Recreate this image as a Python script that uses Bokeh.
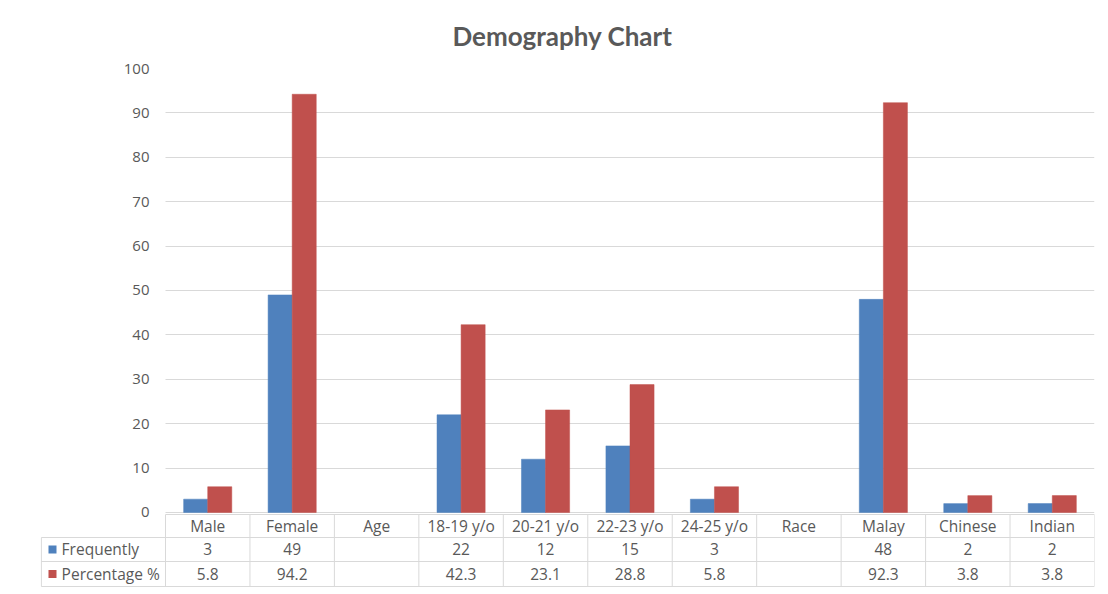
from bokeh.plotting import figure
from bokeh.models import FixedTicker, Range1d
from bokeh.core.properties import value
from bokeh.embed import file_html
from bokeh.resources import INLINE

# ---- data ----
title_text = "Demography Chart"
categories = ["Male", "Female", "Age", "18-19 y/o", "20-21 y/o", "22-23 y/o",
              "24-25 y/o", "Race", "Malay", "Chinese", "Indian"]
frequently = [3, 49, None, 22, 12, 15, 3, None, 48, 2, 2]
percentage = [5.8, 94.2, None, 42.3, 23.1, 28.8, 5.8, None, 92.3, 3.8, 3.8]
series_names = ["Frequently", "Percentage %"]
series_colors = ["#4f81bd", "#c0504d"]
y_ticks = [0, 10, 20, 30, 40, 50, 60, 70, 80, 90, 100]

FONT = "Open Sans"
GREY = "#595959"
LINE = "#d9d9d9"

n = len(categories)
x_left = -1.48
y_bottom = -17.12
row_edges = [-0.45, -5.63, -11.04, -16.67]

p = figure(width=1100, height=588, x_range=Range1d(x_left, n), y_range=Range1d(y_bottom, 100),
           output_backend="svg", toolbar_location=None,
           min_border_left=40, min_border_right=6, min_border_top=68, min_border_bottom=0,
           title=title_text)
p.outline_line_color = None
p.background_fill_color = "white"
p.border_fill_color = "white"
p.xaxis.visible = False
p.xgrid.visible = False
p.ygrid.ticker = FixedTicker(ticks=y_ticks)
p.ygrid.grid_line_color = LINE
p.ygrid.cross_bounds = (0, n)

p.yaxis.ticker = FixedTicker(ticks=y_ticks)
p.yaxis.axis_line_color = None
p.yaxis.major_tick_line_color = None
p.yaxis.minor_tick_line_color = None
p.yaxis.major_tick_out = 0
p.yaxis.major_tick_in = 0
p.yaxis.major_label_standoff = -109
p.yaxis.major_label_text_font = FONT
p.yaxis.major_label_text_font_size = "15px"
p.yaxis.major_label_text_color = GREY

p.title.align = "left"
p.title.offset = 412
p.title.standoff = 33
p.title.text_font = "Lato"
p.title.text_font_size = "26px"
p.title.text_font_style = "bold"
p.title.text_color = GREY

# ---- bars ----
bw = 0.285
for k, (vals, col) in enumerate(zip([frequently, percentage], series_colors)):
    xs = [i + 0.5 + (k - 0.5) * bw for i, v in enumerate(vals) if v is not None]
    tops = [v for v in vals if v is not None]
    p.vbar(x=xs, top=tops, bottom=0, width=bw, fill_color=col, line_color=col, line_width=0.5)

# ---- data table ----
hx0 = [0] + [x_left + 0.01] * 3
hx1 = [n] * 4
p.segment(x0=hx0, y0=row_edges, x1=hx1, y1=row_edges, line_color=LINE, line_width=1)
vx = list(range(n + 1)) + [x_left + 0.01]
vy0 = [row_edges[0]] * (n + 1) + [row_edges[1]]
vy1 = [row_edges[3]] * (n + 2)
p.segment(x0=vx, y0=vy0, x1=vx, y1=vy1, line_color=LINE, line_width=1)

row_mid = [(row_edges[i] + row_edges[i + 1]) / 2 for i in range(3)]
xc = [i + 0.5 for i in range(n)]
TS = "15.5px"
p.text(x=xc, y=[row_mid[0]] * n, text=categories, text_align="center", text_baseline="middle",
       text_font=value(FONT), text_font_size=TS, text_color=GREY)


def fmt(v):
    return "" if v is None else (str(v) if isinstance(v, int) else f"{v:.1f}")


for r, vals in enumerate([frequently, percentage]):
    p.text(x=xc, y=[row_mid[r + 1]] * n, text=[fmt(v) for v in vals], text_align="center",
           text_baseline="middle", text_font=value(FONT), text_font_size=TS, text_color=GREY)

p.scatter(x=[x_left + 0.142] * 2, y=row_mid[1:], marker="square", size=8,
          fill_color=series_colors, line_color=None)
p.text(x=[x_left + 0.25] * 2, y=row_mid[1:], text=series_names, text_align="left",
       text_baseline="middle", text_font=value(FONT), text_font_size=TS, text_color=GREY)

open("out.html", "w").write(file_html(p, INLINE))
